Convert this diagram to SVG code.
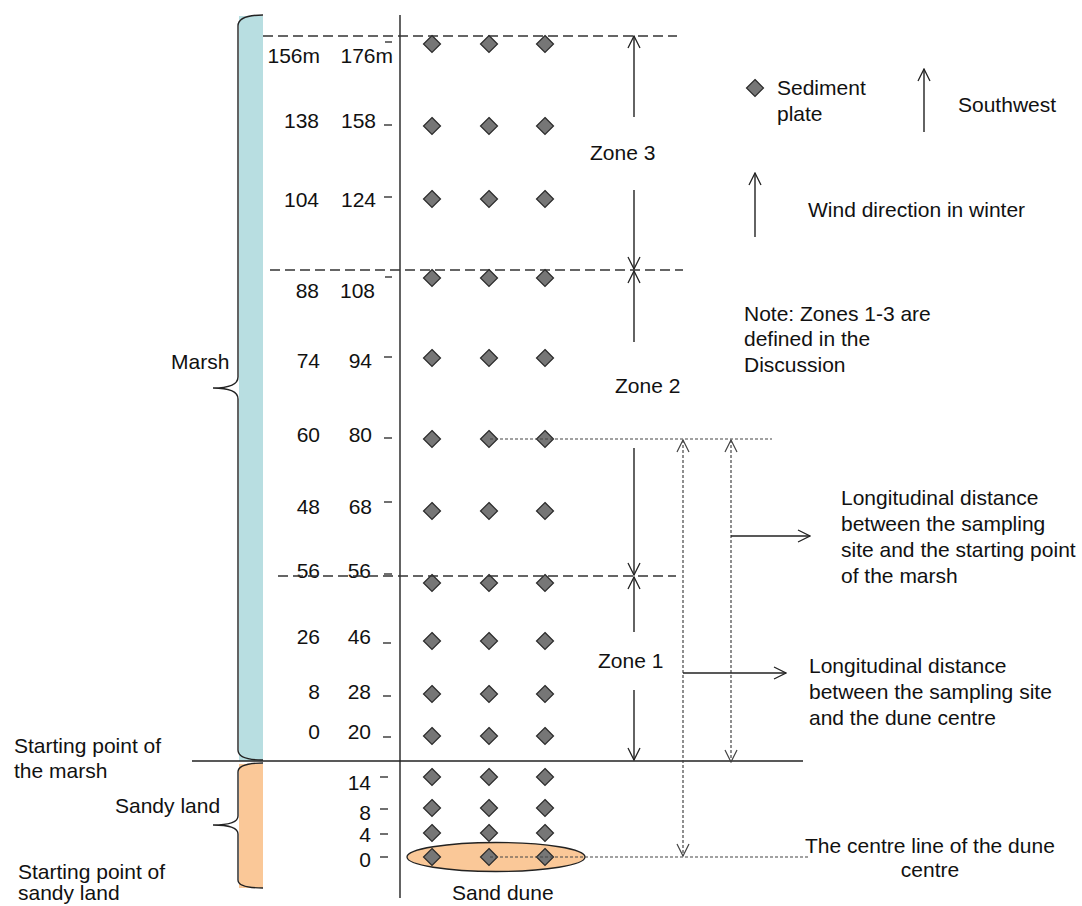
<svg xmlns="http://www.w3.org/2000/svg" width="1082" height="906" viewBox="0 0 1082 906">
<style>
text{font-family:"Liberation Sans",Arial,sans-serif;font-size:21px;fill:#111}
.r{text-anchor:end}
.m{text-anchor:middle}
.d{fill:#767676;stroke:#2a2a2a;stroke-width:1.2}
.ln{stroke:#222;stroke-width:1.4;fill:none}
.dash{stroke:#333;stroke-width:1.4;stroke-dasharray:10 5;fill:none}
.dot{stroke:#444;stroke-width:1.2;stroke-dasharray:3 2;fill:none}
.tk{stroke:#222;stroke-width:1.3}
</style>
<defs>
<marker id="ah" viewBox="0 0 14 14" markerWidth="14" markerHeight="14" refX="13" refY="7" orient="auto-start-reverse" markerUnits="userSpaceOnUse"><path d="M1,1 L13,7 L1,13" fill="none" stroke="#222" stroke-width="1.3"/></marker>
<marker id="ahg" viewBox="0 0 14 14" markerWidth="14" markerHeight="14" refX="13" refY="7" orient="auto-start-reverse" markerUnits="userSpaceOnUse"><path d="M1,1 L13,7 L1,13" fill="none" stroke="#444" stroke-width="1.2"/></marker>
<path id="dm" d="M0,-8.5 L8.5,0 L0,8.5 L-8.5,0 Z"/>
</defs>

<g id="bars">
<rect x="239" y="16" width="24" height="745" fill="#B8DEE1"/>
<rect x="239" y="764" width="24" height="124" fill="#FAC898"/>
<path class="ln" d="M263,15 Q238,15 238,26 L238,377 Q238,388 213,388 Q238,388 238,399 L238,750 Q238,760 263,760"/>
<path class="ln" d="M263,763 Q238,763 238,772 L238,816 Q238,825 213,825 Q238,825 238,834 L238,880 Q238,888 263,888"/>
</g>

<g id="axis">
<line class="ln" x1="400" y1="15" x2="400" y2="898"/>
<line class="ln" x1="192" y1="761" x2="803" y2="761"/>
</g>

<g id="dune">
<ellipse cx="496" cy="857" rx="89" ry="14.5" fill="#FAC898" stroke="#222" stroke-width="1.3"/>
</g>

<g id="labels-left">
<text x="171" y="369">Marsh</text>
<text x="115" y="813">Sandy land</text>
<text x="14" y="753">Starting point of</text>
<text x="14" y="778">the marsh</text>
<text x="18" y="879">Starting point of</text>
<text x="18" y="900">sandy land</text>
</g>

<g id="scale">
<text class="r" x="320" y="63">156m</text><text class="r" x="393" y="63">176m</text>
<text class="r" x="319" y="128">138</text><text class="r" x="376" y="128">158</text>
<text class="r" x="319" y="207">104</text><text class="r" x="376" y="207">124</text>
<text class="r" x="319" y="298">88</text><text class="r" x="375" y="298">108</text>
<text class="r" x="320" y="368">74</text><text class="r" x="372" y="368">94</text>
<text class="r" x="320" y="442">60</text><text class="r" x="372" y="442">80</text>
<text class="r" x="320" y="514">48</text><text class="r" x="372" y="514">68</text>
<text class="r" x="320" y="578">56</text><text class="r" x="371" y="578">56</text>
<text class="r" x="320" y="644">26</text><text class="r" x="371" y="644">46</text>
<text class="r" x="320" y="699">8</text><text class="r" x="371" y="699">28</text>
<text class="r" x="320" y="739">0</text><text class="r" x="371" y="739">20</text>
<text class="r" x="371" y="790">14</text>
<text class="r" x="371" y="820">8</text>
<text class="r" x="371" y="842">4</text>
<text class="r" x="371" y="867">0</text>
<g class="tk">
<line x1="385" y1="42" x2="392" y2="42"/>
<line x1="384" y1="125" x2="392" y2="125"/>
<line x1="384" y1="197" x2="392" y2="197"/>
<line x1="385" y1="277" x2="392" y2="277"/>
<line x1="384" y1="357" x2="392" y2="357"/>
<line x1="384" y1="438" x2="392" y2="438"/>
<line x1="384" y1="502" x2="392" y2="502"/>
<line x1="384" y1="574" x2="392" y2="574"/>
<line x1="383" y1="643" x2="391" y2="643"/>
<line x1="383" y1="696" x2="391" y2="696"/>
<line x1="383" y1="737" x2="391" y2="737"/>
<line x1="380" y1="777" x2="388" y2="777"/>
<line x1="380" y1="809" x2="388" y2="809"/>
<line x1="380" y1="834" x2="388" y2="834"/>
<line x1="380" y1="857" x2="388" y2="857"/>
</g>
</g>

<g id="plates">
<g transform="translate(432,0)">
<use href="#dm" class="d" y="44"/><use href="#dm" class="d" y="126"/><use href="#dm" class="d" y="199"/><use href="#dm" class="d" y="278"/><use href="#dm" class="d" y="358"/><use href="#dm" class="d" y="439"/><use href="#dm" class="d" y="511"/><use href="#dm" class="d" y="583"/><use href="#dm" class="d" y="641"/><use href="#dm" class="d" y="694"/><use href="#dm" class="d" y="736"/><use href="#dm" class="d" y="777"/><use href="#dm" class="d" y="808"/><use href="#dm" class="d" y="833"/><use href="#dm" class="d" y="857"/>
</g>
<g transform="translate(489,0)">
<use href="#dm" class="d" y="44"/><use href="#dm" class="d" y="126"/><use href="#dm" class="d" y="199"/><use href="#dm" class="d" y="278"/><use href="#dm" class="d" y="358"/><use href="#dm" class="d" y="439"/><use href="#dm" class="d" y="511"/><use href="#dm" class="d" y="583"/><use href="#dm" class="d" y="641"/><use href="#dm" class="d" y="694"/><use href="#dm" class="d" y="736"/><use href="#dm" class="d" y="777"/><use href="#dm" class="d" y="808"/><use href="#dm" class="d" y="833"/><use href="#dm" class="d" y="857"/>
</g>
<g transform="translate(545,0)">
<use href="#dm" class="d" y="44"/><use href="#dm" class="d" y="126"/><use href="#dm" class="d" y="199"/><use href="#dm" class="d" y="278"/><use href="#dm" class="d" y="358"/><use href="#dm" class="d" y="439"/><use href="#dm" class="d" y="511"/><use href="#dm" class="d" y="583"/><use href="#dm" class="d" y="641"/><use href="#dm" class="d" y="694"/><use href="#dm" class="d" y="736"/><use href="#dm" class="d" y="777"/><use href="#dm" class="d" y="808"/><use href="#dm" class="d" y="833"/><use href="#dm" class="d" y="857"/>
</g>
</g>

<g id="connectors">
<line class="dash" x1="263" y1="36" x2="677" y2="36"/>
<line class="dash" x1="270" y1="270" x2="683" y2="270"/>
<line class="dash" x1="278" y1="576" x2="676" y2="576"/>
<line class="ln" x1="634" y1="117" x2="634" y2="36" marker-end="url(#ah)"/>
<line class="ln" x1="634" y1="190" x2="634" y2="269" marker-end="url(#ah)"/>
<line class="ln" x1="634" y1="342" x2="634" y2="271" marker-end="url(#ah)"/>
<line class="ln" x1="634" y1="448" x2="634" y2="575" marker-end="url(#ah)"/>
<line class="ln" x1="634" y1="632" x2="634" y2="577" marker-end="url(#ah)"/>
<line class="ln" x1="634" y1="690" x2="634" y2="760" marker-end="url(#ah)"/>
<line class="dot" x1="490" y1="439" x2="772" y2="439"/>
<line class="dot" x1="490" y1="857" x2="810" y2="857"/>
<line class="dot" x1="683" y1="440" x2="683" y2="856" marker-start="url(#ahg)" marker-end="url(#ahg)"/>
<line class="dot" x1="731" y1="440" x2="731" y2="762" marker-start="url(#ahg)" marker-end="url(#ahg)"/>
<line class="ln" x1="731" y1="536" x2="810" y2="536" marker-end="url(#ah)"/>
<line class="ln" x1="683" y1="673" x2="786" y2="673" marker-end="url(#ah)"/>
<line class="ln" x1="924" y1="132" x2="924" y2="69" marker-end="url(#ah)"/>
<line class="ln" x1="755" y1="237" x2="755" y2="173" marker-end="url(#ah)"/>
</g>

<g id="zones">
<text x="590" y="160">Zone 3</text>
<text x="615" y="393">Zone 2</text>
<text x="598" y="668">Zone 1</text>
</g>

<g id="legend">
<use href="#dm" class="d" x="755" y="88"/>
<text x="777" y="95">Sediment</text>
<text x="777" y="121">plate</text>
<text x="958" y="112">Southwest</text>
<text x="808" y="217">Wind direction in winter</text>
<text x="744" y="321">Note: Zones 1-3 are</text>
<text x="744" y="346">defined in the</text>
<text x="744" y="372">Discussion</text>
</g>

<g id="notes-right">
<text x="841" y="505">Longitudinal distance</text>
<text x="841" y="531">between the sampling</text>
<text x="841" y="557">site and the starting point</text>
<text x="841" y="583">of the marsh</text>
<text x="809" y="673">Longitudinal distance</text>
<text x="809" y="699">between the sampling site</text>
<text x="809" y="725">and the dune centre</text>
<text x="805" y="853">The centre line of the dune</text>
<text class="m" x="930" y="877">centre</text>
<text x="452" y="900">Sand dune</text>
</g>
</svg>
